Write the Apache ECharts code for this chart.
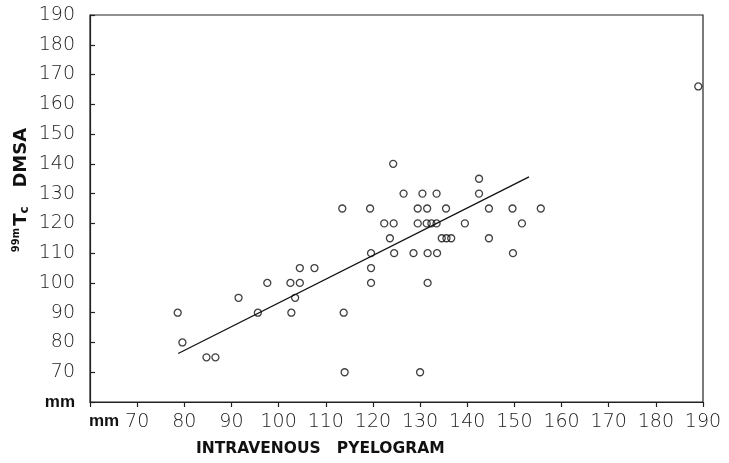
<!DOCTYPE html>
<html>
<head>
<meta charset="utf-8">
<script src="https://cdn.jsdelivr.net/npm/echarts@6/dist/echarts.min.js"></script>
<style>
html,body{margin:0;padding:0;background:#fff;}
#chart{width:729px;height:463px;}
</style>
</head>
<body>
<div id="chart"></div>
<script>
// Data (IVP length vs 99mTc DMSA length, mm)
const ivpX = [78.6, 79.6, 84.7, 86.6, 91.5, 95.6, 97.6, 102.5, 102.7, 103.5, 104.5, 104.5, 107.6,
  113.5, 113.8, 114, 119.4, 119.6, 119.6, 119.6, 122.4, 123.6, 124.3, 124.4, 124.5, 126.5,
  128.6, 129.5, 129.5, 130, 130.5, 131.4, 131.5, 131.6, 131.6, 132.4, 133.5, 133.5, 133.6,
  134.6, 135.5, 135.6, 136.6, 139.5, 142.5, 142.5, 144.6, 144.6, 149.6, 149.7, 151.6, 155.6, 189];
const dmsaY = [90, 80, 75, 75, 95, 90, 100, 100, 90, 95, 100, 105, 105,
  125, 90, 70, 125, 110, 105, 100, 120, 115, 140, 120, 110, 130,
  110, 125, 120, 70, 130, 120, 125, 110, 100, 120, 130, 120, 110,
  115, 125, 115, 115, 120, 135, 130, 125, 115, 125, 110, 120, 125, 166];
const fitX = [78.7, 153.1];
const fitY = [76.3, 135.6];
const axisMin = 60, axisMax = 190, axisStep = 10;
const xTitle = 'INTRAVENOUS   PYELOGRAM';
const unitLabel = 'mm';

const chart = echarts.init(document.getElementById('chart'), null, {renderer: 'canvas'});
const tickFont = {fontFamily: 'DejaVu Sans', fontWeight: 200, fontSize: 19, color: '#222'};
const mmStyle = {fontFamily: 'Liberation Sans', fontWeight: 'bold', fontSize: 17, color: '#111'};

chart.setOption({
  animation: false,
  backgroundColor: '#fff',
  grid: {left: 90, right: 26, top: 15, bottom: 61, show: true, borderColor: '#222', borderWidth: 1.2, backgroundColor: 'transparent'},
  xAxis: {
    type: 'value', min: axisMin, max: axisMax, interval: axisStep,
    axisLine: {lineStyle: {color: '#222', width: 1.2}},
    axisTick: {inside: false, length: 5, lineStyle: {color: '#222', width: 1.2}},
    splitLine: {show: false},
    axisLabel: Object.assign({}, tickFont, {
      margin: 11,
      showMinLabel: true, showMaxLabel: true,
      formatter: v => v === axisMin ? '{mm|' + unitLabel + '}' : String(v),
      rich: {mm: Object.assign({}, mmStyle, {padding: [0, 0, 0, 28]})}
    })
  },
  yAxis: {
    type: 'value', min: axisMin, max: axisMax, interval: axisStep,
    axisLine: {lineStyle: {color: '#222', width: 1.2}},
    axisTick: {inside: true, length: 5, lineStyle: {color: '#222', width: 1.2}},
    splitLine: {show: false},
    axisLabel: Object.assign({}, tickFont, {
      margin: 15,
      showMinLabel: true, showMaxLabel: true,
      formatter: v => v === axisMin ? '{mm|' + unitLabel + '}' : String(v),
      rich: {mm: mmStyle}
    })
  },
  graphic: [
    {type: 'text', left: 196, top: 441, style: {text: xTitle, font: 'bold 15.5px "DejaVu Sans"', fill: '#111'}},
    {type: 'text', x: 21, y: 190, rotation: Math.PI / 2,
     style: {
       text: '{sup|99m}{b|T}{c|c}{b|   DMSA}',
       align: 'center', verticalAlign: 'middle',
       rich: {
         sup: {font: 'bold 10px "DejaVu Sans"', fill: '#111', verticalAlign: 'top', padding: [0, 2, 9, 0]},
         b: {font: 'bold 18px "DejaVu Sans"', fill: '#111'},
         c: {font: 'bold 12px "DejaVu Sans"', fill: '#111', verticalAlign: 'bottom'}
       }
     }}
  ],
  series: [
    {
      type: 'scatter',
      data: ivpX.map((x, i) => [x, dmsaY[i]]),
      symbol: 'circle', symbolSize: 7,
      itemStyle: {color: 'transparent', borderColor: '#111', borderWidth: 1.3},
      z: 3
    },
    {
      type: 'line',
      data: fitX.map((x, i) => [x, fitY[i]]),
      showSymbol: false, symbol: 'none',
      lineStyle: {color: '#111', width: 1.3},
      z: 2
    }
  ]
});
</script>
</body>
</html>
